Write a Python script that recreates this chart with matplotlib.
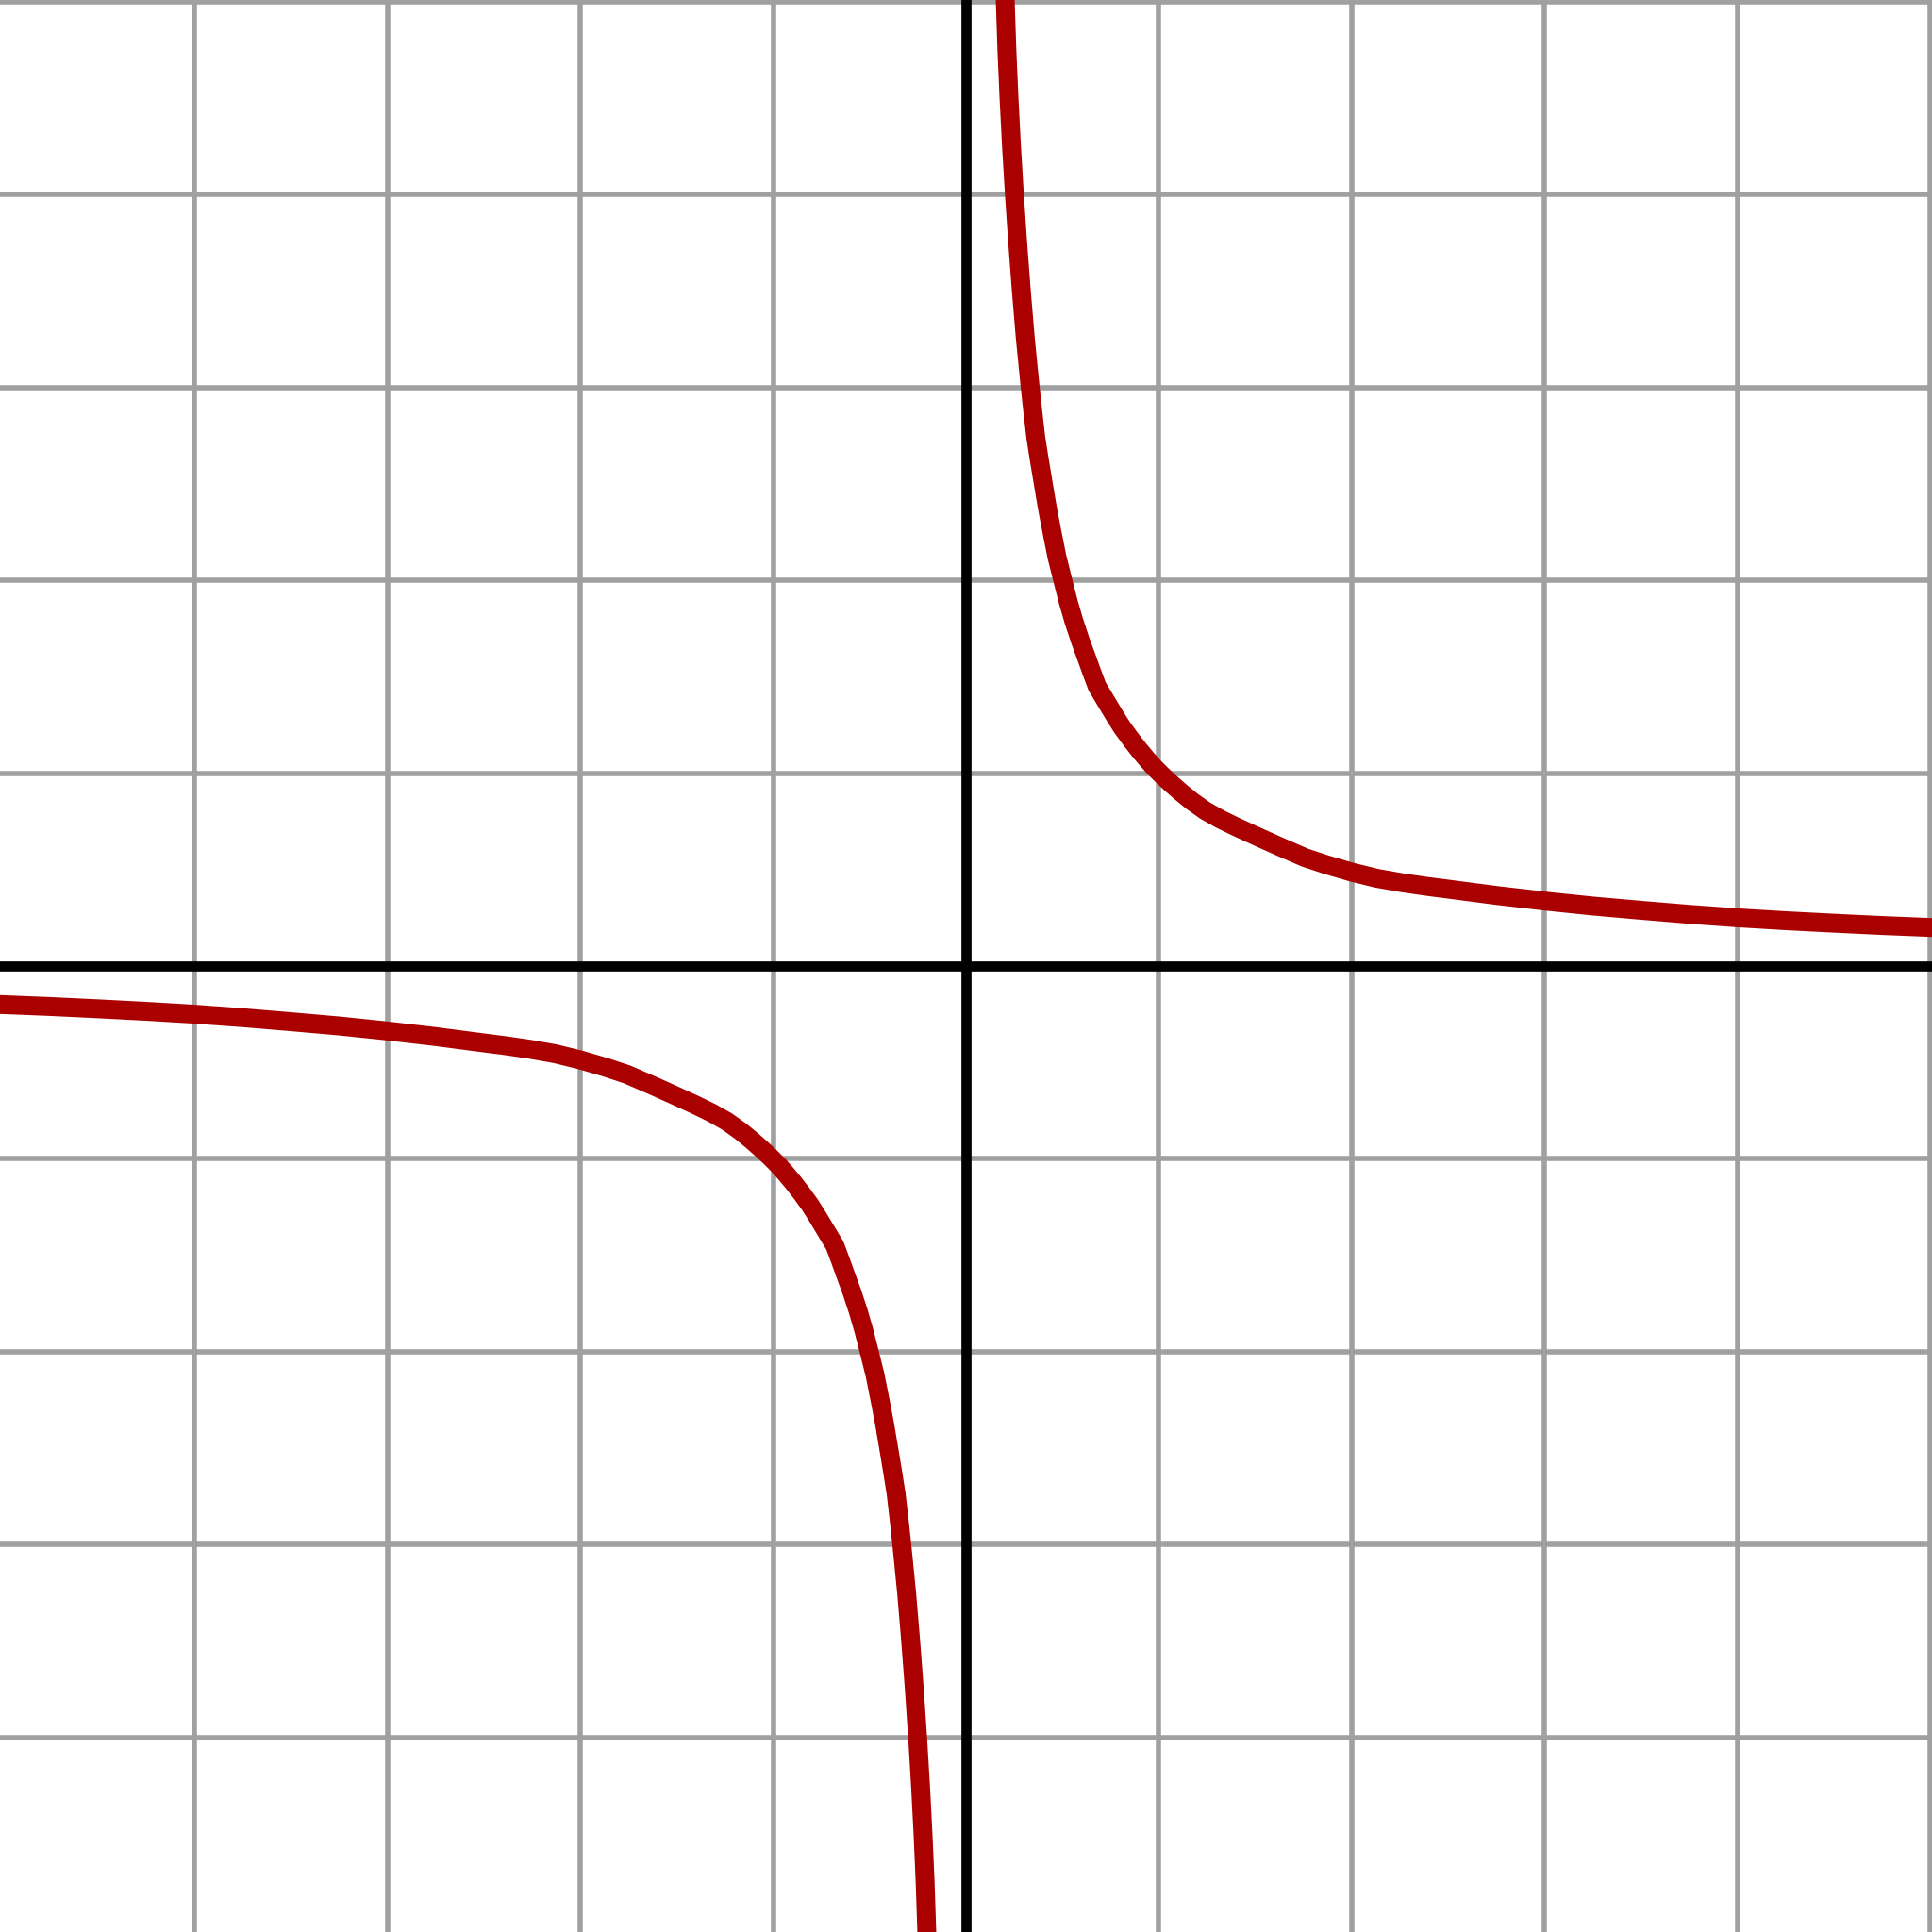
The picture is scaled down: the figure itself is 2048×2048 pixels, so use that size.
import numpy as np
import matplotlib
matplotlib.use("Agg")
import matplotlib.pyplot as plt

# ---------- data ----------
# upper right branch (x, y), traced from the top edge down to the right edge
upper_x = [0.202, 0.212, 0.223, 0.236, 0.251, 0.268, 0.287, 0.308, 0.333, 0.347, 0.362,
           0.381, 0.401, 0.423, 0.446, 0.472, 0.502, 0.530, 0.559, 0.592, 0.625, 0.652, 0.680,
           0.725, 0.77, 0.81, 0.853, 0.895, 0.935, 0.975, 1.016, 1.06, 1.11, 1.171, 1.24, 1.318,
           1.40, 1.5, 1.62, 1.758, 1.87, 2.0, 2.13, 2.26, 2.39, 2.53,
           2.75, 3.0, 3.25, 3.5, 3.75, 4.0, 4.25, 4.5, 4.75, 5.05]
upper_y = [5.05, 4.75, 4.5, 4.25, 4.0, 3.75, 3.5, 3.25, 3.0, 2.87, 2.74,
           2.62, 2.5, 2.37, 2.25, 2.12, 2.0, 1.89, 1.79, 1.69, 1.6, 1.525, 1.45,
           1.375, 1.30, 1.237, 1.178, 1.124, 1.076, 1.031, 0.99, 0.949, 0.905, 0.855, 0.806, 0.762,
           0.722, 0.676, 0.622, 0.562, 0.525, 0.487, 0.455, 0.432, 0.413, 0.395,
           0.366, 0.337, 0.311, 0.289, 0.268, 0.25, 0.235, 0.222, 0.21, 0.198]

# lower left branch (x, y), traced from the left edge down to the bottom edge
lower_x = [-5.05, -4.75, -4.5, -4.25, -4.0, -3.75, -3.5, -3.25, -3.0, -2.75,
           -2.53, -2.39, -2.26, -2.13, -2.0, -1.87, -1.758, -1.62, -1.5, -1.40,
           -1.318, -1.24, -1.171, -1.11, -1.06, -1.016, -0.975, -0.935, -0.895, -0.853,
           -0.81, -0.77, -0.725, -0.680, -0.652, -0.625, -0.592, -0.559, -0.530, -0.502,
           -0.472, -0.446, -0.423, -0.401, -0.381, -0.362, -0.347, -0.333, -0.308, -0.287,
           -0.268, -0.251, -0.236, -0.223, -0.212, -0.202]
lower_y = [-0.198, -0.21, -0.222, -0.235, -0.25, -0.268, -0.289, -0.311, -0.337, -0.366,
           -0.395, -0.413, -0.432, -0.455, -0.487, -0.525, -0.562, -0.622, -0.676, -0.722,
           -0.762, -0.806, -0.855, -0.905, -0.949, -0.99, -1.031, -1.076, -1.124, -1.178,
           -1.237, -1.30, -1.375, -1.45, -1.525, -1.6, -1.69, -1.79, -1.89, -2.0,
           -2.12, -2.25, -2.37, -2.5, -2.62, -2.74, -2.87, -3.0, -3.25, -3.5,
           -3.75, -4.0, -4.25, -4.5, -4.75, -5.05]

# grid lines (axis at 0 drawn separately)
grid_x = [-4, -3, -2, -1, 1, 2, 3, 4, 5]
grid_y = [-4, -3, -2, -1, 1, 2, 3, 4, 5]
LIM = 5.0098

GRID_COLOR = "#a0a0a0"
CURVE_COLOR = "#aa0000"

fig = plt.figure(figsize=(20.48, 20.48), dpi=100)
ax = fig.add_axes([0, 0, 1, 1])
ax.set_xlim(-LIM, LIM)
ax.set_ylim(-LIM, LIM)
ax.axis("off")

for gx in grid_x:
    ax.axvline(gx, color=GRID_COLOR, lw=4.0, zorder=1)
for gy in grid_y:
    ax.axhline(gy, color=GRID_COLOR, lw=4.0, zorder=1)

# coordinate axes
ax.axvline(0, color="black", lw=7.7, zorder=2)
ax.axhline(0, color="black", lw=7.7, zorder=2)

ax.plot(upper_x, upper_y, color=CURVE_COLOR, lw=14.4, solid_joinstyle="round",
        solid_capstyle="butt", zorder=3)
ax.plot(lower_x, lower_y, color=CURVE_COLOR, lw=14.4, solid_joinstyle="round",
        solid_capstyle="butt", zorder=3)

fig.savefig("out.png", dpi=100, facecolor="white")
